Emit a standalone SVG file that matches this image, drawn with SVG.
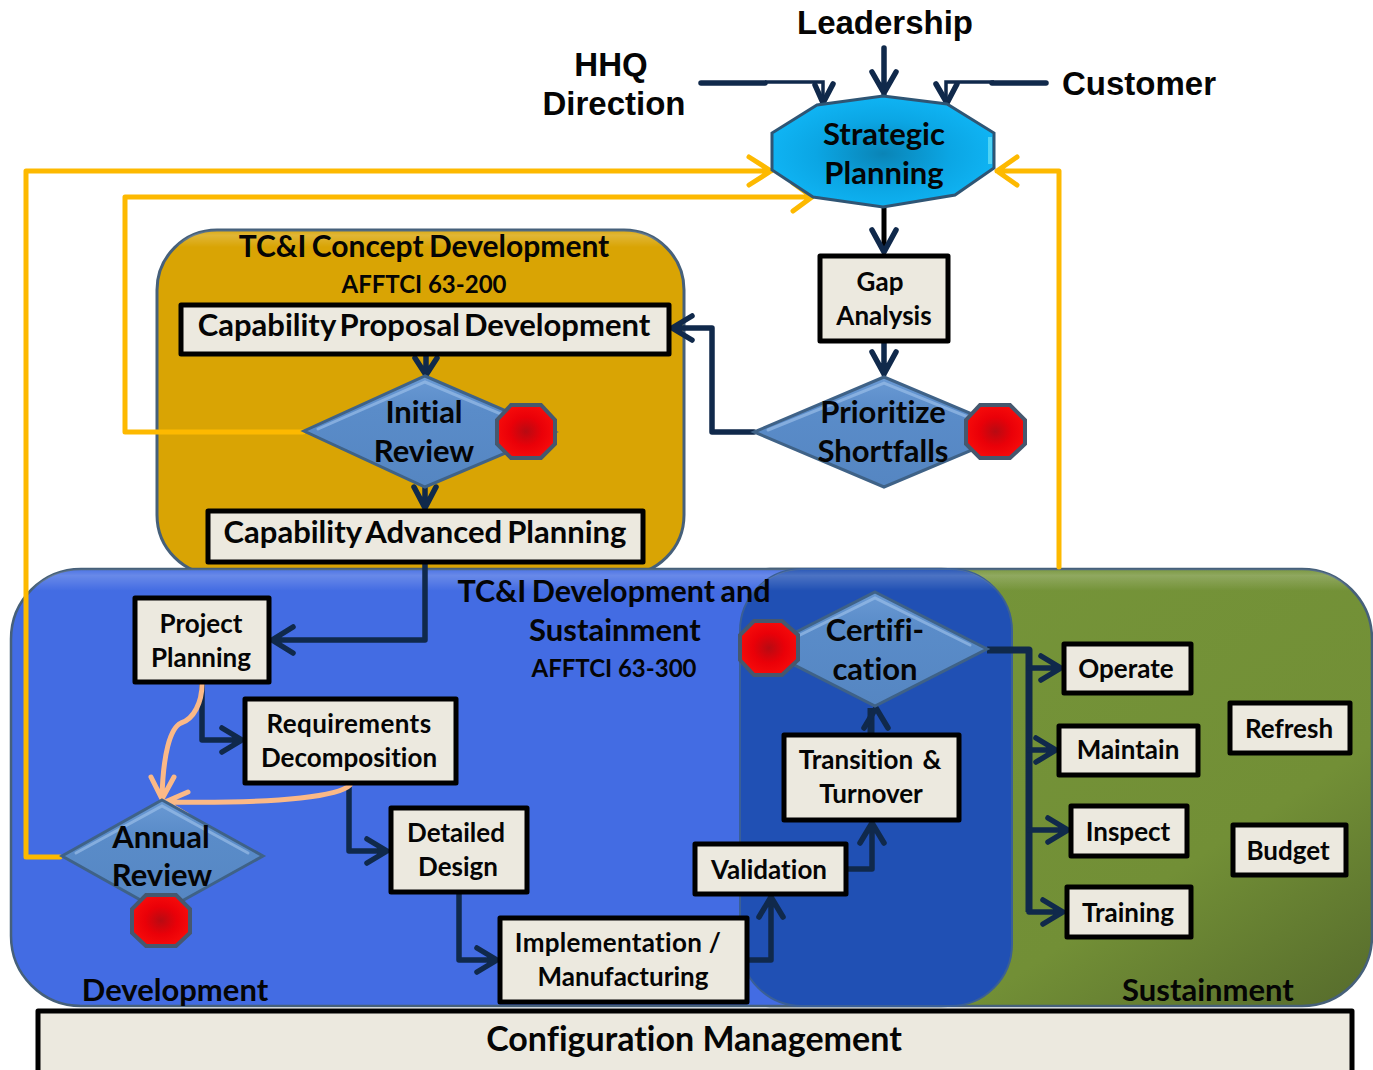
<svg xmlns="http://www.w3.org/2000/svg" width="1373" height="1070" viewBox="0 0 1373 1070">
<style>
text{font-family:"Lato","Carlito","Liberation Sans",sans-serif;font-weight:700;fill:#050505;text-anchor:middle;font-variant-ligatures:none}
.a{font-family:"Liberation Sans",Arial,sans-serif;font-size:33px}
.b{fill:#ece9df;stroke:#000;stroke-width:5;stroke-linejoin:round}
.t24{font-size:26px}
.t23{font-size:24px}
.t30{font-size:31px}
.d{fill:url(#dia);stroke:#3f6287;stroke-width:3}
.h{fill:none;stroke:#9cc0ea;stroke-width:3;opacity:.65;stroke-linecap:round}
.s{fill:url(#red);stroke:#46586e;stroke-width:4}
.n{fill:none;stroke:#10294b;stroke-width:5.5;stroke-linejoin:round;stroke-linecap:round}
.tr{fill:none;stroke:#10294b;stroke-width:7;stroke-linejoin:round}
.k{fill:none;stroke:#000;stroke-width:5;stroke-linejoin:round;stroke-linecap:round}
.y{fill:none;stroke:#fdb900;stroke-width:5;stroke-linejoin:round;stroke-linecap:round}
.p{fill:none;stroke:#fbb987;stroke-width:5;stroke-linejoin:round;stroke-linecap:round}
.top{fill:url(#sheen)}
</style>
<defs>
<radialGradient id="red"><stop offset="0" stop-color="#b80a12"/><stop offset="0.55" stop-color="#ea0008"/><stop offset="1" stop-color="#f60a0a"/></radialGradient>
<radialGradient id="cy" cx="0.5" cy="0.52" r="0.55"><stop offset="0" stop-color="#0a84b6"/><stop offset="0.55" stop-color="#0ba6e4"/><stop offset="1" stop-color="#10b6f6"/></radialGradient>
<linearGradient id="dia" x1="0" y1="0" x2="0" y2="1"><stop offset="0" stop-color="#6a9ad4"/><stop offset="0.3" stop-color="#5a8cc9"/><stop offset="1" stop-color="#5586c2"/></linearGradient>
<linearGradient id="gr" x1="0" y1="0" x2="1" y2="1"><stop offset="0" stop-color="#76963a"/><stop offset="0.7" stop-color="#728f36"/><stop offset="1" stop-color="#566b2c"/></linearGradient>
<linearGradient id="sheen" x1="0" y1="0" x2="0" y2="1"><stop offset="0" stop-color="#fff" stop-opacity=".05"/><stop offset="0.015" stop-color="#fff" stop-opacity=".2"/><stop offset="0.05" stop-color="#fff" stop-opacity="0"/></linearGradient>
</defs>

<g id="sustainment-region">
<rect x="700" y="569" width="672" height="437" rx="70" fill="url(#gr)" stroke="#46607a" stroke-width="2.5"/>
<rect x="700" y="569" width="672" height="437" rx="70" class="top"/>
<text x="1208" y="1001" class="t30">Sustainment</text>
</g>
<g id="concept-region">
<rect x="157" y="230" width="527" height="345" rx="60" fill="#d9a404" stroke="#46607a" stroke-width="3"/>
<rect x="157" y="230" width="527" height="345" rx="60" class="top"/>
<text x="424" y="257" class="t30" style="word-spacing:-2px;font-size:30px">TC&amp;I Concept Development</text>
<text x="424" y="293" class="t23">AFFTCI 63-200</text>
</g>
<g id="development-region">
<rect x="11" y="569" width="1000" height="437" rx="70" fill="#436ce3" stroke="#46607a" stroke-width="2.5"/>
<rect x="11" y="569" width="1000" height="437" rx="70" class="top"/>
<rect x="740" y="569" width="272" height="437" rx="62" fill="#2050b4" stroke="#3a5f96" stroke-width="2"/>
<rect x="740" y="569" width="272" height="437" rx="62" class="top"/>
<text x="614" y="602" class="t30" style="word-spacing:-2px;font-size:30.5px">TC&amp;I Development and</text>
<text x="615" y="641" class="t30">Sustainment</text>
<text x="614" y="677" class="t23">AFFTCI 63-300</text>
<text x="175" y="1001" class="t30">Development</text>
</g>

<g id="connectors">
<path class="n" d="M701 83H765"/>
<path fill="none" stroke="#10294b" stroke-width="3.5" d="M765 82H823V103"/>
<path class="n" d="M815 85L823 103L833 84"/>
<path class="n" d="M884 48V94M872 72L884 93L896 72"/>
<path class="n" d="M1046 83H992"/>
<path fill="none" stroke="#10294b" stroke-width="3.5" d="M994 82H946V103"/>
<path class="n" d="M936 84L947 103L957 84"/>
<path class="k" d="M884 208V250"/>
<path class="n" d="M872 230L884 252L896 230"/>
<path class="n" d="M884 342V374M872 352L884 374L896 352"/>
<path class="n" d="M754 432H712V328H672M692 316L672 328L692 340"/>
<path class="n" d="M426 356V375M415 358L426 375L437 358"/>
<path class="n" d="M425 486V509M414 487L425 508L436 487"/>
<path class="y" d="M60 857H26V171H771M749 157L771 171L749 185"/>
<path class="y" d="M303 432H125V197H812M793 183L812 197L793 211"/>
<path class="y" d="M1059 567V171H997M1017 157L997 171L1017 185"/>
<path class="n" d="M425 563V640H272M293 627L272 640L293 653"/>
<path class="n" d="M202 683V740H242M222 728L242 740L222 752"/>
<path class="p" d="M202 684C202 702 194 719 181 723C170 728 163 755 162 798M151 777L162 799L174 777"/>
<path class="n" d="M349 784V851H387M367 839L387 851L367 863"/>
<path class="p" d="M350 785C340 795 290 804 165 802M188 792L165 802L187 815"/>
<path class="n" d="M459 893V960H497M477 948L497 960L477 972"/>
<path class="n" d="M748 960H771V897M759 917L771 897L783 917"/>
<path class="n" d="M847 869H872V823M860 843L872 823L884 843"/>
<path class="tr" d="M871 733V708"/>
<path class="n" d="M864 728L876 708L888 728"/>
<path class="tr" d="M987 650H1029V912"/>
<path class="n" d="M1029 668H1061M1041 656L1061 668L1041 680"/>
<path class="n" d="M1029 750H1056M1036 738L1056 750L1036 762"/>
<path class="n" d="M1029 830H1068M1048 818L1068 830L1048 842"/>
<path class="n" d="M1029 912H1063M1043 900L1063 912L1043 924"/>
</g>

<g id="hhq"><text x="611" y="76" class="a">HHQ</text><text x="614" y="115" class="a">Direction</text></g>
<g id="leadership"><text x="885" y="34" class="a">Leadership</text></g>
<g id="customer"><text x="1139" y="95" class="a">Customer</text></g>

<g id="strategic-planning">
<polygon points="883,96 947,104 994,133 994,168 955,195 883,207 813,197 772,170 772,133 817,105" fill="url(#cy)" stroke="#2f5574" stroke-width="3"/>
<path d="M990 137V164" fill="none" stroke="#5fdcf5" stroke-width="4" opacity=".8"/>
<text x="884" y="145" class="t30">Strategic</text><text x="884" y="184" class="t30">Planning</text>
</g>
<g id="gap-analysis">
<rect x="820" y="256" width="128" height="85" class="b"/>
<text x="880" y="291" class="t24">Gap</text><text x="884" y="325" class="t24">Analysis</text>
</g>
<g id="prioritize">
<polygon points="884,377 1015,432 884,487 754,432" class="d"/>
<path class="h" d="M768 430L884 383L1000 430"/>
<text x="883" y="423" class="t30">Prioritize</text><text x="883" y="462" class="t30">Shortfalls</text>
<polygon points="980,405 1010,405 1025,420 1025,444 1010,458 980,458 966,444 966,420" class="s"/>
</g>
<g id="capability-proposal">
<rect x="181" y="305" width="488" height="49" class="b"/>
<text x="424" y="336" class="t30" style="word-spacing:-3.5px">Capability Proposal Development</text>
</g>
<g id="initial-review">
<polygon points="425,376 555,432 425,487 304,431" class="d"/>
<path class="h" d="M318 429L425 382L520 422"/>
<text x="424" y="423" class="t30">Initial</text><text x="424" y="462" class="t30">Review</text>
<polygon points="511,405 541,405 555,420 555,444 541,458 511,458 497,444 497,420" class="s"/>
</g>
<g id="capability-advanced">
<rect x="208" y="511" width="435" height="51" class="b"/>
<text x="425" y="543" class="t30" style="word-spacing:-2.5px">Capability Advanced Planning</text>
</g>
<g id="project-planning">
<rect x="135" y="598" width="134" height="84" class="b"/>
<text x="201" y="633" class="t24">Project</text><text x="201" y="667" class="t24">Planning</text>
</g>
<g id="requirements">
<rect x="245" y="699" width="211" height="84" class="b"/>
<text x="349" y="733" class="t24" style="letter-spacing:.4px">Requirements</text><text x="349" y="767" class="t24">Decomposition</text>
</g>
<g id="annual-review">
<polygon points="162,800 263,856 162,912 62,856" class="d"/>
<path class="h" d="M76 853L162 806L248 853"/>
<text x="161" y="848" class="t30">Annual</text><text x="162" y="886" class="t30">Review</text>
<polygon points="146,895 176,895 190,909 190,933 176,946 146,946 132,933 132,909" class="s"/>
</g>
<g id="detailed-design">
<rect x="391" y="808" width="136" height="84" class="b"/>
<text x="456" y="842" class="t24">Detailed</text><text x="458" y="876" class="t24">Design</text>
</g>
<g id="implementation">
<rect x="500" y="918" width="247" height="84" class="b"/>
<text x="618" y="952" class="t24" style="letter-spacing:.3px">Implementation /</text><text x="623" y="986" class="t24">Manufacturing</text>
</g>
<g id="validation">
<rect x="695" y="844" width="151" height="50" class="b"/>
<text x="769" y="879" class="t24">Validation</text>
</g>
<g id="transition">
<rect x="784" y="735" width="175" height="85" class="b"/>
<text x="870" y="769" class="t24" style="word-spacing:3px">Transition &amp;</text><text x="871" y="803" class="t24">Turnover</text>
</g>
<g id="certification">
<polygon points="875,592 987,649 875,706 763,649" class="d"/>
<path class="h" d="M790 640L875 598L970 645"/>
<text x="875" y="641" class="t30">Certifi-</text><text x="875" y="680" class="t30">cation</text>
<polygon points="754,621 782,621 798,635 798,660 782,675 754,675 740,660 740,635" class="s"/>
</g>
<g id="operate"><rect x="1064" y="644" width="127" height="49" class="b"/><text x="1126" y="678" class="t24">Operate</text></g>
<g id="maintain"><rect x="1059" y="726" width="139" height="49" class="b"/><text x="1128" y="759" class="t24">Maintain</text></g>
<g id="inspect"><rect x="1071" y="806" width="116" height="50" class="b"/><text x="1128" y="841" class="t24">Inspect</text></g>
<g id="training"><rect x="1067" y="887" width="124" height="50" class="b"/><text x="1128" y="922" class="t24">Training</text></g>
<g id="refresh"><rect x="1230" y="703" width="120" height="50" class="b"/><text x="1289" y="738" class="t24">Refresh</text></g>
<g id="budget"><rect x="1233" y="825" width="113" height="50" class="b"/><text x="1288" y="860" class="t24">Budget</text></g>
<g id="configuration-management">
<rect x="38" y="1011" width="1314" height="62" class="b"/>
<text x="694" y="1051" style="font-size:34px">Configuration Management</text>
</g>
</svg>
